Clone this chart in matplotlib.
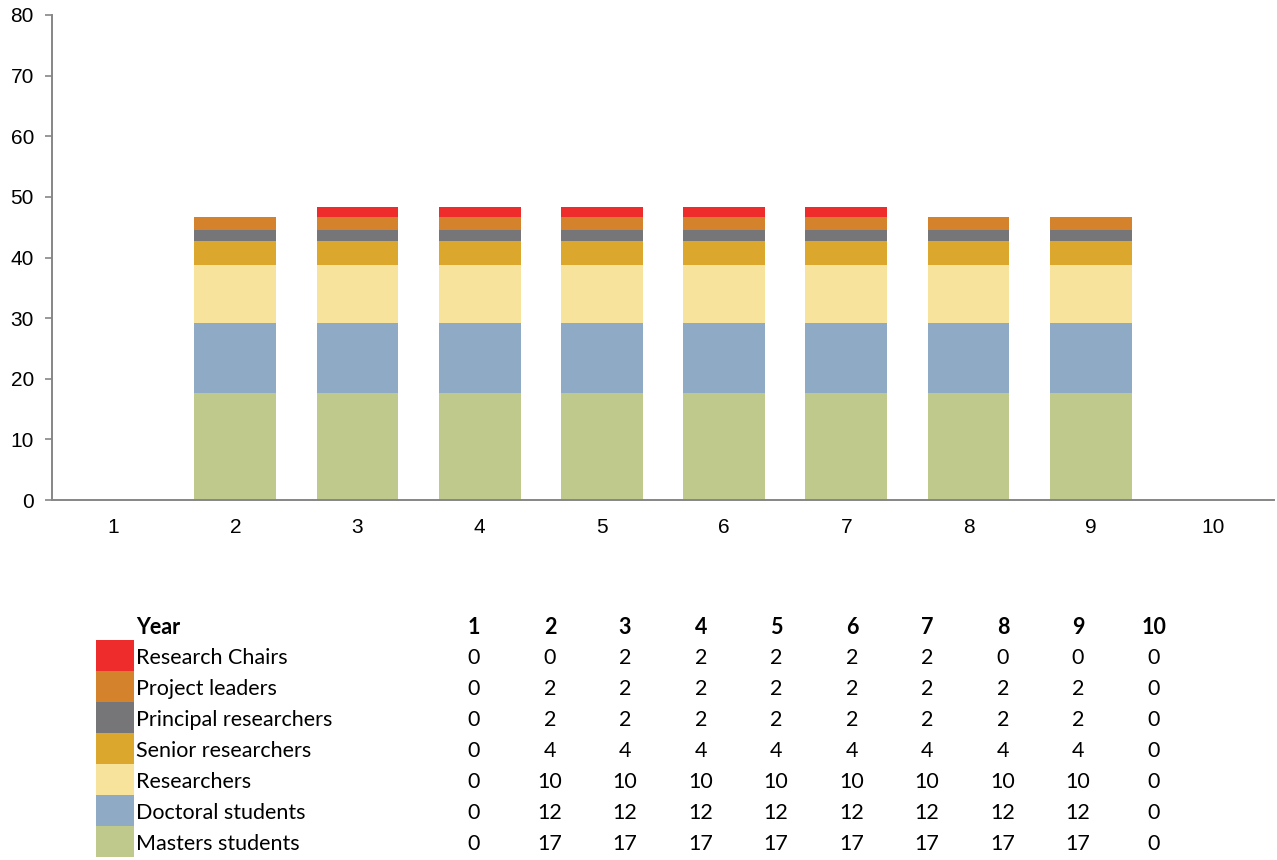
import numpy as np
import matplotlib.pyplot as plt
from matplotlib.patches import Rectangle

plt.rcParams['font.family'] = 'Liberation Sans'

W, H = 1277, 860

years = [1, 2, 3, 4, 5, 6, 7, 8, 9, 10]
series = ['Masters students', 'Doctoral students', 'Researchers', 'Senior researchers',
          'Principal researchers', 'Project leaders', 'Research Chairs']
colors = ['#BFC98C', '#8FAAC4', '#F8E39C', '#DBA82D', '#767678', '#D4822B', '#EE2C2C']

# bar heights
masters   = [0, 17.6, 17.6, 17.6, 17.6, 17.6, 17.6, 17.6, 17.6, 0]
doctoral  = [0, 11.6, 11.6, 11.6, 11.6, 11.6, 11.6, 11.6, 11.6, 0]
research  = [0, 9.5, 9.5, 9.5, 9.5, 9.5, 9.5, 9.5, 9.5, 0]
senior    = [0, 4.1, 4.1, 4.1, 4.1, 4.1, 4.1, 4.1, 4.1, 0]
principal = [0, 1.8, 1.8, 1.8, 1.8, 1.8, 1.8, 1.8, 1.8, 0]
leaders   = [0, 2.0, 2.0, 2.0, 2.0, 2.0, 2.0, 2.0, 2.0, 0]
chairs    = [0, 0, 1.8, 1.8, 1.8, 1.8, 1.8, 0, 0, 0]

# values printed in the data table (top row first)
table_rows = ['Research Chairs', 'Project leaders', 'Principal researchers', 'Senior researchers',
              'Researchers', 'Doctoral students', 'Masters students']
table_vals = [
    [0, 0, 2, 2, 2, 2, 2, 0, 0, 0],
    [0, 2, 2, 2, 2, 2, 2, 2, 2, 0],
    [0, 2, 2, 2, 2, 2, 2, 2, 2, 0],
    [0, 4, 4, 4, 4, 4, 4, 4, 4, 0],
    [0, 10, 10, 10, 10, 10, 10, 10, 10, 0],
    [0, 12, 12, 12, 12, 12, 12, 12, 12, 0],
    [0, 17, 17, 17, 17, 17, 17, 17, 17, 0],
]

fig = plt.figure(figsize=(W / 100, H / 100), dpi=100)
ax = fig.add_axes([52 / W, 1 - 500 / H, (1274 - 52) / W, (500 - 15) / H])

axis_col = '#868686'
bottom = np.zeros(len(years))
for vals, c in zip([masters, doctoral, research, senior, principal, leaders, chairs], colors):
    ax.bar(years, vals, width=0.67, bottom=bottom, color=c, edgecolor='none')
    bottom += np.array(vals)

ax.set_xlim(0.5, 10.5)
ax.set_ylim(0, 80)
ax.set_yticks(range(0, 81, 10))
ax.set_xticks(years)
for s in ['top', 'right']:
    ax.spines[s].set_visible(False)
for s in ['left', 'bottom']:
    ax.spines[s].set_color(axis_col)
    ax.spines[s].set_linewidth(1.4)
ax.tick_params(axis='y', length=5, width=1.2, color=axis_col, pad=8, labelsize=15)
ax.tick_params(axis='x', length=0, pad=13, labelsize=15)

# data table under the chart
def fx(px):
    return px / W

def fy(py):
    return 1 - py / H

tfont = 'Lato'
tsize = 15.5
col_x = [474, 550, 625, 701, 776, 852, 927, 1003, 1078, 1154]
fig.text(fx(136), fy(628), 'Year', fontsize=tsize, fontweight='bold', family=tfont, va='center')
for x, yr in zip(col_x, years):
    fig.text(fx(x), fy(628), str(yr), fontsize=tsize, fontweight='bold', family=tfont,
             ha='center', va='center')

top = 640
for i, (name, row) in enumerate(zip(table_rows, table_vals)):
    y0 = top + i * 31
    fig.patches.append(Rectangle((fx(96), fy(y0 + 31)), (134 - 96) / W, 31 / H,
                                 transform=fig.transFigure, color=colors[::-1][i], lw=0))
    fig.text(fx(136), fy(y0 + 18), name, fontsize=tsize, family=tfont, va='center')
    for x, v in zip(col_x, row):
        fig.text(fx(x), fy(y0 + 18), str(v), fontsize=tsize, family=tfont, ha='center', va='center')

plt.savefig('out.png', dpi=100)
